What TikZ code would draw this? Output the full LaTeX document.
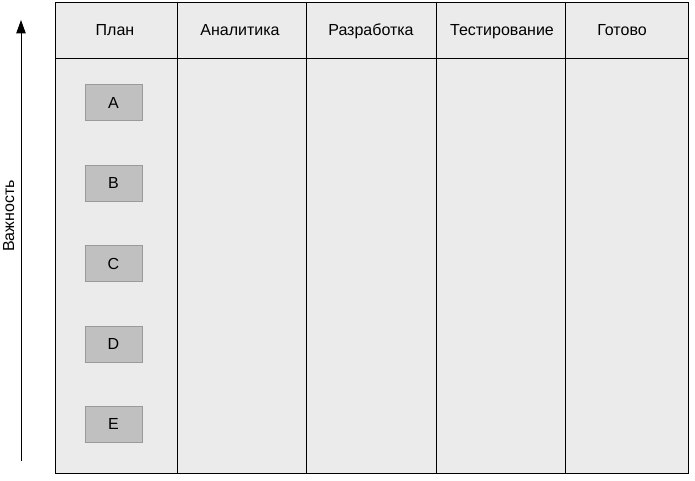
\documentclass[tikz,border=0pt]{standalone}
\usepackage{fontspec}
\setmainfont{Liberation Sans}
\usetikzlibrary{arrows.meta,positioning}
\definecolor{boardgray}{HTML}{EBEBEB}
\definecolor{cardgray}{HTML}{C0C0C0}
\definecolor{cardline}{HTML}{9A9A9A}
\tikzset{
	card/.style={draw=cardline, fill=cardgray, minimum width=42.75pt, minimum height=27pt, inner sep=0pt, font=\fontsize{12}{14}\selectfont},
	head/.style={font=\fontsize{12}{14}\selectfont, inner sep=0pt, text height=8.6pt, text depth=2.4pt}
}

\begin{document}
\begin{tikzpicture}[x=0.75pt, y=-0.75pt, line width=0.75pt]
			\useasboundingbox (0,0) rectangle (695,481);

			\draw[fill=boardgray] (55,3) rectangle (688,473);
			\draw (55,59) -- (688,59);
			\foreach \x in {177, 306, 436, 565} \draw (\x,3) -- (\x,473);

			\node[head] (plan) at (115,31.5) {План};
			\node[head] (analit) at (240,31.5) {Аналитика};
			\node[head] (razrab) at (371,31.5) {Разработка};
			\node[head] (test) at (502,31.5) {Тестирование};
			\node[head] (gotovo) at (622,31.5) {Готово};

			\node[card] (A) at (113.5,103) {A};
			\node[card] (B) at (113.5,183) {B};
			\node[card] (C) at (113.5,263.5) {C};
			\node[card] (D) at (113.5,344) {D};
			\node[card] (E) at (113.5,424) {E};

			\coordinate (low) at (21,461);
			\coordinate (high) at (21,20);
			\draw[-{Triangle[length=10pt,width=7pt]}] (low) -- (high);
			\node[head, rotate=90] (vazh) at (10,216) {Важность};

\end{tikzpicture}
\end{document}
